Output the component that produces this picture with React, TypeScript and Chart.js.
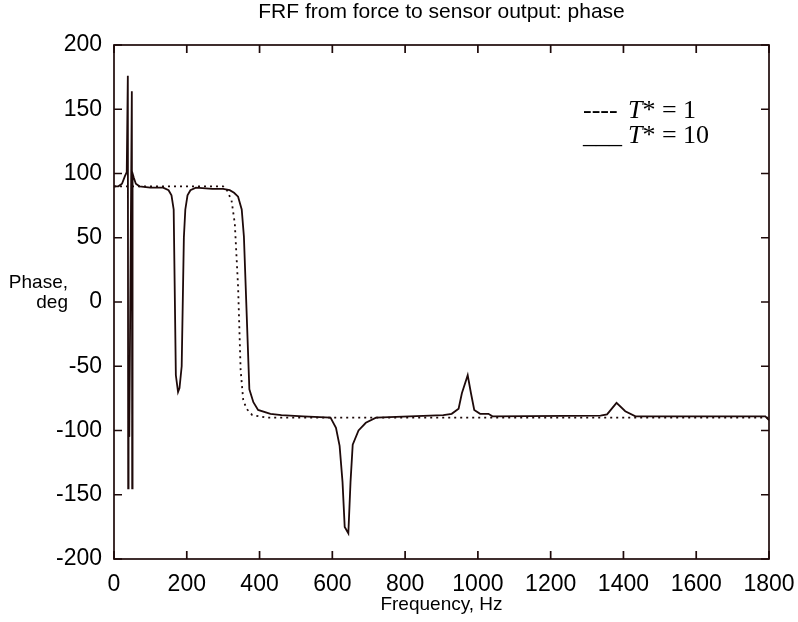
import React, { useEffect, useRef } from "react";
import { Chart, registerables } from "chart.js";

Chart.register(...registerables);

// T* = 10 (solid)
const freqT10 = [0, 12, 22, 30, 35, 38, 39, 40, 42, 49, 50, 51, 54, 60, 70, 100, 135, 150, 158, 164, 170, 176, 180, 186, 192, 196, 202, 210, 225, 270, 300, 318, 330, 341, 351, 357, 372, 383, 396, 430, 460, 520, 595, 610, 620, 628, 634, 644, 650, 656, 672, 692, 720, 905, 928, 947, 956, 972, 981, 990, 1006, 1029, 1040, 1337, 1355, 1381, 1405, 1433, 1790, 1800];
const phaseT10 = [90, 90, 92, 98, 101, 176, -145, -100, -105, 164, -145, 100, 97, 92, 90, 89, 89, 87, 83, 72, -57, -70, -67, -50, 50, 72, 83, 87, 89, 88, 88, 87, 85, 82, 72, 51, -68, -78, -84, -87, -88, -89, -90, -98, -112, -140, -175, -180, -140, -111, -100, -94, -90, -88, -87, -83, -71, -57, -71, -84, -87, -87, -89, -88.5, -87.5, -78.5, -85, -89, -89, -92];

// T* = 1 (dotted)
const freqT1 = [0, 300, 309, 323, 332, 341, 348, 355, 364, 380, 420, 1800];
const phaseT1 = [90, 90, 88, 79, 61, 12, -53, -76, -83, -88, -90, -90];

const xTicks = [0, 200, 400, 600, 800, 1000, 1200, 1400, 1600, 1800];
const yTicks = [-200, -150, -100, -50, 0, 50, 100, 150, 200];

const titleText = "FRF from force to sensor output: phase";
const xTitle = "Frequency, Hz";
const yTitle = ["Phase,", "deg"];
const legendItems = [
  { mark: "----", rest: "* = 1" },
  { mark: "___", rest: "* = 10" },
];

const ink = "#1e0a0a";
const sans = '"Liberation Sans", Arial, sans-serif';
const serif = '"Liberation Serif", "Times New Roman", serif';

const framePlugin = {
  id: "frame",
  afterDraw(chart: any) {
    const { ctx, chartArea: a, scales } = chart;
    const x = scales.x;
    const y = scales.y;
    ctx.save();
    ctx.strokeStyle = ink;
    ctx.lineWidth = 1.7;
    ctx.strokeRect(a.left, a.top, a.right - a.left, a.bottom - a.top);
    ctx.beginPath();
    xTicks.forEach((v) => {
      const px = x.getPixelForValue(v);
      ctx.moveTo(px, a.bottom);
      ctx.lineTo(px, a.bottom - 8);
      ctx.moveTo(px, a.top);
      ctx.lineTo(px, a.top + 8);
    });
    yTicks.forEach((v) => {
      const py = y.getPixelForValue(v);
      ctx.moveTo(a.left, py);
      ctx.lineTo(a.left + 8, py);
      ctx.moveTo(a.right, py);
      ctx.lineTo(a.right - 8, py);
    });
    ctx.stroke();

    ctx.fillStyle = "#000";
    ctx.textBaseline = "middle";
    ctx.textAlign = "center";
    ctx.font = `21px ${sans}`;
    ctx.fillText(titleText, (a.left + a.right) / 2, 12);
    ctx.font = `19px ${sans}`;
    ctx.fillText(xTitle, (a.left + a.right) / 2, 605);
    ctx.textAlign = "right";
    ctx.fillText(yTitle[0], 68, 283);
    ctx.fillText(yTitle[1], 68, 303);

    // legend
    ctx.textAlign = "left";
    ctx.textBaseline = "alphabetic";
    const baselines = [118, 143];
    legendItems.forEach((it, i) => {
      const by = baselines[i];
      let cx = 583;
      ctx.font = `26px ${serif}`;
      ctx.fillText(it.mark, cx, by);
      cx = 628;
      ctx.font = `italic 26px ${serif}`;
      ctx.fillText("T", cx, by);
      cx += ctx.measureText("T").width;
      ctx.font = `26px ${serif}`;
      ctx.fillText(it.rest, cx, by);
    });
    ctx.restore();
  },
};

export default function App() {
  const ref = useRef<HTMLCanvasElement | null>(null);
  useEffect(() => {
    if (!ref.current) return;
    const chart = new Chart(ref.current, {
      type: "scatter",
      data: {
        datasets: [
          {
            label: "T* = 10",
            data: freqT10.map((f, i) => ({ x: f, y: phaseT10[i] })),
            showLine: true,
            borderColor: ink,
            borderWidth: 1.8,
            pointRadius: 0,
            tension: 0,
          },
          {
            label: "T* = 1",
            data: freqT1.map((f, i) => ({ x: f, y: phaseT1[i] })),
            showLine: true,
            borderColor: ink,
            borderWidth: 1.8,
            borderDash: [2, 4],
            pointRadius: 0,
            tension: 0,
          },
        ],
      },
      options: {
        responsive: false,
        animation: false,
        layout: { padding: { left: 0, right: 29, top: 45, bottom: 0 } },
        plugins: { legend: { display: false }, tooltip: { enabled: false }, title: { display: false } },
        scales: {
          x: {
            type: "linear",
            min: 0,
            max: 1800,
            afterFit: (s: any) => { s.height = 63; s.paddingLeft = 0; s.paddingRight = 0; },
            grid: { display: false, drawTicks: false },
            border: { display: false },
            ticks: { stepSize: 200, padding: 12, color: "#000", font: { family: sans, size: 23 }, maxRotation: 0, autoSkip: false, callback: (v: any) => String(v) },
          },
          y: {
            type: "linear",
            min: -200,
            max: 200,
            afterFit: (s: any) => { s.width = 114; s.paddingTop = 0; s.paddingBottom = 0; },
            grid: { display: false, drawTicks: false },
            border: { display: false },
            ticks: { stepSize: 50, padding: 12, color: "#000", font: { family: sans, size: 23 }, autoSkip: false, callback: (v: any) => String(v) },
          },
        },
      },
      plugins: [framePlugin],
    });
    return () => chart.destroy();
  }, []);
  return (
    <div style={{ position: "absolute", left: 0, top: 0, width: 798, height: 622, background: "#fff" }}>
      <canvas ref={ref} width={798} height={622} />
    </div>
  );
}
